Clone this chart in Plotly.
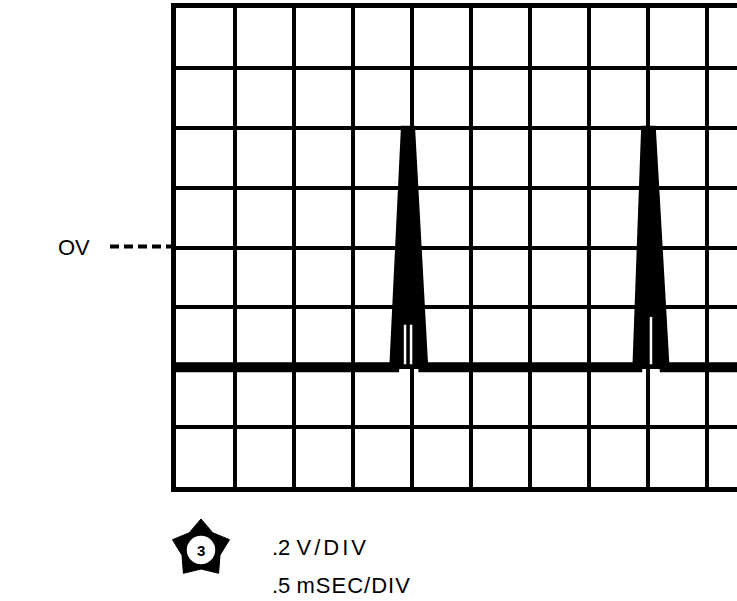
import numpy as np
import plotly.graph_objects as go

# ---- scope settings -------------------------------------------------------
volts_per_div = 0.2          # V/DIV
ms_per_div = 0.5             # mSEC/DIV
n_vdiv = 8                   # vertical divisions on the graticule
n_hdiv_visible = 9.508       # horizontal divisions that fit in the frame

# ---- captured waveform (time in ms, level in V) ---------------------------
t_ms = [0.000, 1.850, 1.947, 1.985, 2.095, 3.910, 3.983, 4.025, 4.140, 4.754]
v_volts = [-0.40, -0.40, 0.39, 0.39, -0.40, -0.40, 0.39, 0.39, -0.40, -0.40]

# thin bright gaps left inside the lower part of each pulse
gap_t_ms = [1.941, 1.992, 4.025]
gap_top_v = [-0.258, -0.258, -0.232]
baseline_v = -0.40

# ---- page geometry (pixels) -----------------------------------------------
FIG_W, FIG_H = 737, 601
PLOT_LEFT, PLOT_TOP, PLOT_BOTTOM = 176, 8, 487

v_max = volts_per_div * n_vdiv / 2
v_min = -v_max
t_max = ms_per_div * n_hdiv_visible


def v_to_px(v):
    return PLOT_TOP + (v_max - v) / (v_max - v_min) * (PLOT_BOTTOM - PLOT_TOP)


fig = go.Figure()

# waveform: closing the path along the baseline fills the pulses solid
fig.add_trace(go.Scatter(
    x=t_ms, y=v_volts, mode="lines", fill="toself", fillcolor="black",
    line=dict(color="black", width=10), hoverinfo="skip", showlegend=False,
))

for t, top in zip(gap_t_ms, gap_top_v):
    fig.add_trace(go.Scatter(
        x=[t, t], y=[top, baseline_v + 0.01], mode="lines",
        line=dict(color="white", width=2.5), hoverinfo="skip", showlegend=False,
    ))

# pixel-space overlay used for the labels around the graticule
fig.add_trace(go.Scatter(x=[], y=[], xaxis="x2", yaxis="y2",
                         showlegend=False, hoverinfo="skip"))

grid_x = list(np.arange(0, t_max + 1e-9, ms_per_div))
grid_y = list(np.round(np.arange(v_min, v_max + 1e-9, volts_per_div), 3))

fig.update_layout(
    width=FIG_W, height=FIG_H,
    margin=dict(l=0, r=0, t=0, b=0),
    paper_bgcolor="white", plot_bgcolor="rgba(0,0,0,0)",
    xaxis=dict(
        domain=[PLOT_LEFT / FIG_W, 1], range=[0, t_max],
        tickmode="array", tickvals=grid_x, showticklabels=False, ticks="",
        showgrid=True, gridcolor="black", gridwidth=4, zeroline=False,
        showline=True, linecolor="black", linewidth=5, mirror=True,
    ),
    yaxis=dict(
        domain=[1 - PLOT_BOTTOM / FIG_H, 1 - PLOT_TOP / FIG_H], range=[v_min, v_max],
        tickmode="array", tickvals=grid_y, showticklabels=False, ticks="",
        showgrid=True, gridcolor="black", gridwidth=4, zeroline=False,
        showline=True, linecolor="black", linewidth=5, mirror=False,
    ),
    xaxis2=dict(domain=[0, 1], range=[0, FIG_W], visible=False, anchor="y2"),
    yaxis2=dict(domain=[0, 1], range=[FIG_H, 0], visible=False, anchor="x2"),
)

LABEL_FONT = dict(family="Liberation Sans, Arial", size=22, color="black")

# 0 V reference marker on the left of the graticule
y0_px = v_to_px(0.0)
fig.add_shape(type="line", xref="x2", yref="y2", x0=110, x1=PLOT_LEFT - 2,
              y0=y0_px - 1, y1=y0_px - 1,
              line=dict(color="black", width=4, dash="9px,5px"))
fig.add_annotation(xref="x2", yref="y2", x=92, y=y0_px, text="OV",
                   showarrow=False, xanchor="right", yanchor="middle",
                   font=LABEL_FONT)

# step-number badge
cx, cy, R_out, R_in = 201, 549, 30, 20
ang = np.deg2rad(-90 + np.arange(10) * 36)
rad = np.where(np.arange(10) % 2 == 0, R_out, R_in)
pts = [(cx + r * np.cos(a), cy + r * np.sin(a)) for r, a in zip(rad, ang)]
star_path = "M " + " L ".join(f"{px:.1f},{py:.1f}" for px, py in pts) + " Z"
fig.add_shape(type="path", xref="x2", yref="y2", path=star_path,
              fillcolor="black", line=dict(color="black", width=1))
fig.add_shape(type="circle", xref="x2", yref="y2", x0=cx - 15, x1=cx + 15,
              y0=cy - 14, y1=cy + 16, fillcolor="white",
              line=dict(color="black", width=1.5))
fig.add_annotation(xref="x2", yref="y2", x=cx, y=cy + 1, text="<b>3</b>",
                   showarrow=False, font=dict(family="Liberation Sans, Arial",
                                              size=15, color="black"))

# scope settings text
fig.add_annotation(xref="x2", yref="y2", x=270, y=547,
                   text='.2 <span style="letter-spacing:3px">V/DIV</span>',
                   showarrow=False, xanchor="left", yanchor="middle",
                   font=LABEL_FONT)
fig.add_annotation(xref="x2", yref="y2", x=270, y=585,
                   text='.5 <span style="letter-spacing:1px">mSEC/DIV</span>',
                   showarrow=False, xanchor="left", yanchor="middle",
                   font=LABEL_FONT)

fig.write_html("out.html")
